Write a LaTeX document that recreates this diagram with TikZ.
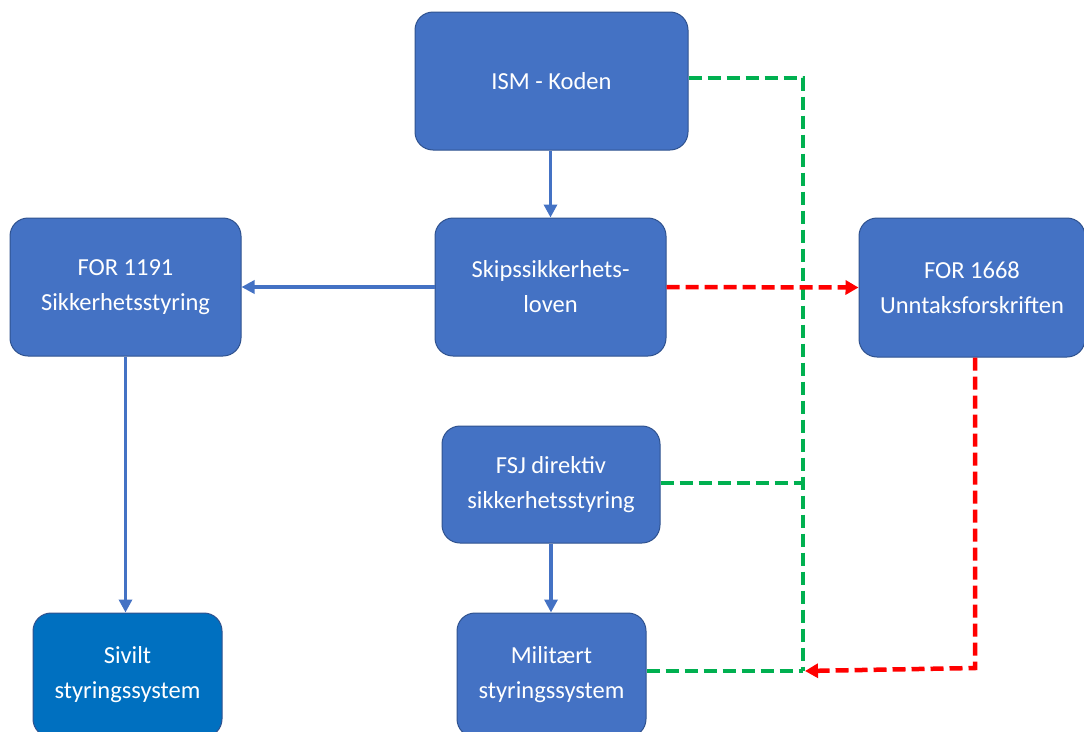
\documentclass[tikz,border=0pt]{standalone}
\usepackage{fontspec}
\setmainfont{Carlito}
\usetikzlibrary{arrows.meta}
\definecolor{boxblue}{HTML}{4472C4}
\definecolor{boxedge}{HTML}{2F528F}
\definecolor{darkblue}{HTML}{0070C0}
\definecolor{gr}{HTML}{00B050}
\definecolor{rd}{HTML}{FF0000}
\tikzset{
  box/.style={draw=boxedge, line width=1pt, fill=boxblue, rounded corners=18pt, text=white,
    align=center, font=\fontsize{24.5}{35}\selectfont, inner sep=0pt},
  flow/.style={draw=boxblue, line width=3.5pt, -{Triangle[length=13pt,width=13pt]}},
  gline/.style={draw=gr, line width=4.5pt, dash pattern=on 13pt off 6pt},
  rline/.style={draw=rd, line width=4.5pt, dash pattern=on 13pt off 6pt},
}
\begin{document}
\begin{tikzpicture}[x=1pt,y=-1pt]
\useasboundingbox (0,0) rectangle (1084,731);
\clip (0,0) rectangle (1084,731);
\node[box, minimum width=273pt, minimum height=138pt] (ism) at (551.5,81) {ISM - Koden};
\node[box, minimum width=231pt, minimum height=138pt] (skip) at (550.5,287) {Skipssikkerhets-\\loven};
\node[box, minimum width=231pt, minimum height=138pt] (f1191) at (125.5,287) {FOR 1191\\Sikkerhetsstyring};
\node[box, minimum width=226pt, minimum height=139pt] (f1668) at (972,287.5) {FOR 1668\\Unntaksforskriften};
\node[box, minimum width=218pt, minimum height=117pt] (fsj) at (551,484.5) {FSJ direktiv\\sikkerhetsstyring};
\node[box, minimum width=189pt, minimum height=124pt] (mil) at (551.5,675) {Militært\\styringssystem};
\node[box, fill=darkblue, minimum width=189pt, minimum height=124pt] (siv) at (127.5,675) {Sivilt\\styringssystem};

\coordinate (gtop) at (803,78);
\coordinate (gmid) at (803,483);
\coordinate (gbot) at (803,671);
\coordinate (rtip) at (805,671);
\coordinate (rcorner) at (975,668);

\draw[flow] (skip.north |- ism.south) -- (skip.north);
\draw[flow] (skip.west) -- (f1191.east);
\draw[flow] (f1191.south) -- (f1191.south |- siv.north);
\draw[flow] (fsj.south) -- (fsj.south |- mil.north);

\draw[gline] (ism.east |- gtop) -- (gtop) -- (gbot);
\draw[gline] (fsj.east |- gmid) -- (gmid);
\draw[gline] (mil.east |- gbot) -- (gbot);

\draw[rline, -{Triangle[length=13pt,width=14pt]}] (skip.east) -- (f1668.west);
\draw[rline, -{Triangle[length=13pt,width=14pt]}] (f1668.south -| rcorner) -- (rcorner) -- (rtip);
\end{tikzpicture}
\end{document}
